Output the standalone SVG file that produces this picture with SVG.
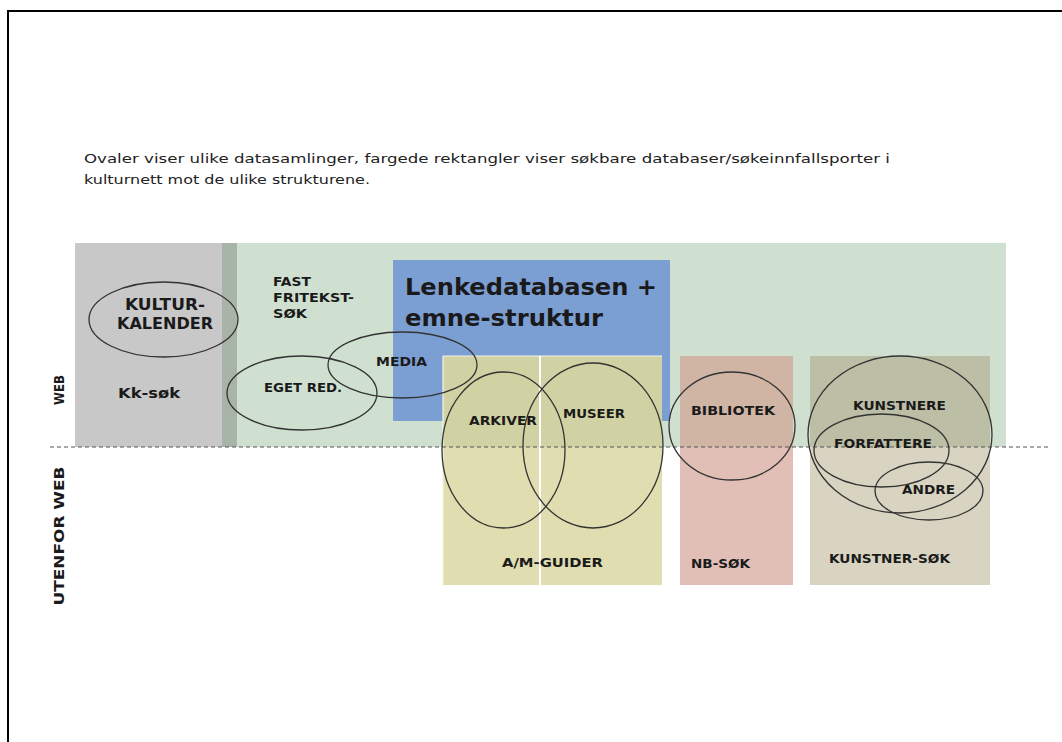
<svg xmlns="http://www.w3.org/2000/svg" width="1062" height="742" viewBox="0 0 1062 742">
<style>
.lbl{font-family:"DejaVu Sans","Verdana",sans-serif;font-weight:bold;fill:#1a1a1a}
.hdr{font-family:"DejaVu Sans","Verdana",sans-serif;font-size:12.5px;fill:#222}
.ov{fill:none;stroke:#333;stroke-width:1.3}
</style>
<rect width="1062" height="742" fill="#fff"/>
<path d="M8,742 V11 H1062" fill="none" stroke="#000" stroke-width="2"/>
<g id="header">
<text class="hdr" x="84" y="163" textLength="806" lengthAdjust="spacingAndGlyphs">Ovaler viser ulike datasamlinger, fargede rektangler viser søkbare databaser/søkeinnfallsporter  i</text>
<text class="hdr" x="84" y="184" textLength="286" lengthAdjust="spacingAndGlyphs">kulturnett mot de ulike strukturene.</text>
</g>
<g id="areas">
<rect id="web-area" x="75" y="243" width="931" height="204" fill="#cfe0d1"/>
<rect id="kk-area" x="75" y="243" width="147" height="204" fill="#c8c8c8"/>
<rect x="222" y="243" width="15" height="204" fill="#a9b4a8"/>
<rect id="lenke-area" x="393" y="260" width="277" height="161" fill="#7c9fd3"/>
<rect id="am-area" x="443" y="356" width="219" height="229" fill="#e0ddb1"/>
<rect x="443" y="356" width="219" height="91" fill="#d1d2a3"/>
<path d="M443,585 V356 H662" fill="none" stroke="#f4f4e4" stroke-width="1.2"/>
<line x1="540" y1="356" x2="540" y2="585" stroke="#fff" stroke-width="2"/>
<rect id="nb-area" x="680" y="356" width="113" height="229" fill="#e1bfb6"/>
<rect x="680" y="356" width="113" height="91" fill="#d0b5a5"/>
<rect id="kunstner-area" x="810" y="356" width="180" height="229" fill="#d9d3c1"/>
<rect x="810" y="356" width="180" height="91" fill="#bcbea6"/>
</g>
<g id="connectors">
<line x1="50" y1="447" x2="1048" y2="447" stroke="#555" stroke-width="1.2" stroke-dasharray="4 3"/>
</g>
<g id="ovals">
<ellipse id="kulturkalender" class="ov" cx="163.5" cy="319.5" rx="74.5" ry="37.5"/>
<ellipse id="eget-red" class="ov" cx="302" cy="393" rx="75" ry="37"/>
<ellipse id="media" class="ov" cx="402.5" cy="365" rx="74.5" ry="33"/>
<ellipse id="arkiver" class="ov" cx="503.5" cy="450" rx="61.5" ry="78"/>
<ellipse id="museer" class="ov" cx="593" cy="445.5" rx="70" ry="82.5"/>
<ellipse id="bibliotek" class="ov" cx="732" cy="426" rx="63" ry="54"/>
<ellipse id="kunstnere" class="ov" cx="900" cy="434.5" rx="92" ry="78.5"/>
<ellipse id="forfattere" class="ov" cx="881.5" cy="450.5" rx="67.5" ry="36.5"/>
<ellipse id="andre" class="ov" cx="929" cy="491" rx="54" ry="29"/>
</g>
<g id="labels">
<text class="lbl" x="125" y="310" font-size="15.5" textLength="80" lengthAdjust="spacingAndGlyphs">KULTUR-</text>
<text class="lbl" x="117" y="329" font-size="15.5" textLength="96" lengthAdjust="spacingAndGlyphs">KALENDER</text>
<text class="lbl" x="118" y="398" font-size="14" textLength="62" lengthAdjust="spacingAndGlyphs">Kk-søk</text>
<text class="lbl" x="273" y="286" font-size="13" textLength="38" lengthAdjust="spacingAndGlyphs">FAST</text>
<text class="lbl" x="273" y="302" font-size="13" textLength="81" lengthAdjust="spacingAndGlyphs">FRITEKST-</text>
<text class="lbl" x="273" y="318" font-size="13" textLength="34" lengthAdjust="spacingAndGlyphs">SØK</text>
<text class="lbl" x="264" y="392" font-size="13" textLength="78" lengthAdjust="spacingAndGlyphs">EGET RED.</text>
<text class="lbl" x="376" y="366" font-size="13" textLength="51" lengthAdjust="spacingAndGlyphs">MEDIA</text>
<text class="lbl" x="405" y="295" font-size="23" textLength="252" lengthAdjust="spacingAndGlyphs">Lenkedatabasen +</text>
<text class="lbl" x="405" y="326" font-size="23" textLength="198" lengthAdjust="spacingAndGlyphs">emne-struktur</text>
<text class="lbl" x="469" y="425" font-size="13" textLength="68" lengthAdjust="spacingAndGlyphs">ARKIVER</text>
<text class="lbl" x="563" y="418" font-size="13" textLength="62" lengthAdjust="spacingAndGlyphs">MUSEER</text>
<text class="lbl" x="502" y="567" font-size="13" textLength="101" lengthAdjust="spacingAndGlyphs">A/M-GUIDER</text>
<text class="lbl" x="691" y="415" font-size="13" textLength="84" lengthAdjust="spacingAndGlyphs">BIBLIOTEK</text>
<text class="lbl" x="691" y="568" font-size="13" textLength="59" lengthAdjust="spacingAndGlyphs">NB-SØK</text>
<text class="lbl" x="853" y="410" font-size="13" textLength="93" lengthAdjust="spacingAndGlyphs">KUNSTNERE</text>
<text class="lbl" x="834" y="448" font-size="13" textLength="98" lengthAdjust="spacingAndGlyphs">FORFATTERE</text>
<text class="lbl" x="902" y="494" font-size="13" textLength="53" lengthAdjust="spacingAndGlyphs">ANDRE</text>
<text class="lbl" x="829" y="563" font-size="13" textLength="121" lengthAdjust="spacingAndGlyphs">KUNSTNER-SØK</text>
<text class="lbl" font-size="14" text-anchor="middle" transform="translate(64,390) rotate(-90)" textLength="30" lengthAdjust="spacingAndGlyphs">WEB</text>
<text class="lbl" font-size="14" text-anchor="middle" transform="translate(64,536) rotate(-90)" textLength="139" lengthAdjust="spacingAndGlyphs">UTENFOR WEB</text>
</g>
</svg>
